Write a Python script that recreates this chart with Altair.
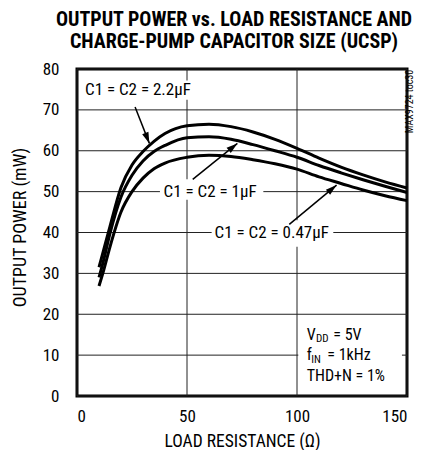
import math
import altair as alt
import pandas as pd

# ---- data ----
R = [10, 12, 15, 20, 25, 30, 35, 40, 50, 60, 70, 80, 90, 100, 110, 120, 130, 140, 150]
P_22 = [31.5, 35.5, 41.5, 51.0, 56.5, 59.8, 62.3, 64.2, 66.1, 66.5, 65.9, 64.6, 62.8, 60.6, 58.2, 56.0, 54.1, 52.4, 50.9]
P_1 = [29.0, 33.0, 39.8, 48.7, 54.0, 57.5, 59.8, 61.3, 63.2, 63.4, 62.8, 61.5, 60.0, 58.4, 56.4, 54.6, 52.9, 51.3, 49.8]
P_047 = [26.9, 30.5, 36.5, 45.0, 50.0, 53.3, 55.6, 57.0, 58.4, 58.9, 58.6, 57.8, 56.8, 55.5, 53.6, 52.0, 50.4, 49.0, 47.8]
SERIES = ["2.2uF", "1uF", "0.47uF"]

X_TICKS = [0, 50, 100, 150]
Y_TICKS = [0, 10, 20, 30, 40, 50, 60, 70, 80]

LABELS = ["C1 = C2 = 2.2\u00b5F", "C1 = C2 = 1\u00b5F", "C1 = C2 = 0.47\u00b5F"]
LABEL_X = [27.7, 60.5, 88.5]
LABEL_Y = [74.8, 50.0, 40.0]

# white label backgrounds (x, x2, y, y2)
BG_X = [4.0, 37.7, 61.2, 100.6]
BG_X2 = [52.5, 84.7, 116.5, 147.7]
BG_Y = [72.5, 48.0, 36.5, 2.0]
BG_Y2 = [77.2, 53.0, 43.0, 18.0]

# arrows: tail -> tip
AR_X1 = [26.4, 52.6, 96.5]
AR_Y1 = [70.7, 53.0, 42.0]
AR_X2 = [32.9, 72.9, 118.0]
AR_Y2 = [61.8, 61.8, 51.6]

COND_TEXT = ["V", "DD", "= 5V", "f", "IN", "= 1kHz", "THD+N = 1%"]
COND_X = [104.4, 108.6, 116.5, 104.4, 106.5, 113.8, 104.4]
COND_Y = [14.9, 14.0, 14.9, 10.1, 8.9, 10.1, 4.9]
COND_SIZE = [16, 11, 16, 16, 11, 16, 16]

FONT = "Roboto Condensed"
W, H = 330, 327
XMAX, YMAX = 150, 80

curves = pd.DataFrame({
    "R": R * 3,
    "P": P_22 + P_1 + P_047,
    "s": [SERIES[0]] * len(R) + [SERIES[1]] * len(R) + [SERIES[2]] * len(R),
})

sx, sy = W / XMAX, H / YMAX
angles = []
for x1, y1, x2, y2 in zip(AR_X1, AR_Y1, AR_X2, AR_Y2):
    dx = (x2 - x1) * sx
    dys = -(y2 - y1) * sy
    angles.append(math.degrees(math.atan2(dx, -dys)) % 360)
arrows = pd.DataFrame({"x1": AR_X1, "y1": AR_Y1, "x2": AR_X2, "y2": AR_Y2, "ang": angles})
labels = pd.DataFrame({"t": LABELS, "x": LABEL_X, "y": LABEL_Y})
bgs = pd.DataFrame({"x": BG_X, "x2": BG_X2, "y": BG_Y, "y2": BG_Y2})
cond = pd.DataFrame({"t": COND_TEXT, "x": COND_X, "y": COND_Y, "fs": COND_SIZE})
mark = pd.DataFrame({"t": ["MAX9724 toc30"], "x": [151.3], "y": [79.8]})
gx = pd.DataFrame({"v": X_TICKS})
gy = pd.DataFrame({"v": Y_TICKS})

xs = alt.Scale(domain=[0, XMAX], nice=False)
ys = alt.Scale(domain=[0, YMAX], nice=False)

xax = alt.Axis(values=X_TICKS, title="LOAD RESISTANCE (\u03a9)", grid=False)
yax = alt.Axis(values=Y_TICKS, title="OUTPUT POWER (mW)", grid=False,
               titleX=-57, titleY=158, titleAngle=270, titleBaseline="middle", titleAlign="center")

grid_x = alt.Chart(gx).mark_rule(color="#222", strokeWidth=1).encode(
    x=alt.X("v:Q", scale=xs, axis=xax)
)
grid_y = alt.Chart(gy).mark_rule(color="#222", strokeWidth=1).encode(
    y=alt.Y("v:Q", scale=ys, axis=yax)
)

base_bg = alt.Chart(bgs).mark_rect(color="white").encode(
    x=alt.X("x:Q", scale=xs), x2="x2:Q",
    y=alt.Y("y:Q", scale=ys), y2="y2:Q",
)

lines = alt.Chart(curves).mark_line(color="black", strokeWidth=3, interpolate="monotone").encode(
    x=alt.X("R:Q", scale=xs), y=alt.Y("P:Q", scale=ys), detail="s:N"
)

shafts = alt.Chart(arrows).mark_rule(color="black", strokeWidth=1.5).encode(
    x=alt.X("x1:Q", scale=xs), y=alt.Y("y1:Q", scale=ys), x2="x2:Q", y2="y2:Q"
)

heads = alt.Chart(arrows).mark_point(
    shape="M0,0 L-0.3,1 L0.3,1 Z", filled=True, color="black", opacity=1, size=500
).encode(
    x=alt.X("x2:Q", scale=xs), y=alt.Y("y2:Q", scale=ys), angle=alt.Angle("ang:Q", scale=None)
)

texts = alt.Chart(labels).mark_text(font=FONT, fontSize=17, color="black", align="center", baseline="middle").encode(
    x=alt.X("x:Q", scale=xs), y=alt.Y("y:Q", scale=ys), text="t:N"
)

conds = alt.Chart(cond).mark_text(font=FONT, color="black", align="left", baseline="middle").encode(
    x=alt.X("x:Q", scale=xs), y=alt.Y("y:Q", scale=ys), text="t:N", size=alt.Size("fs:Q", scale=None)
)

wm = alt.Chart(mark).mark_text(font=FONT, fontSize=10, color="black", align="right", baseline="middle", angle=270).encode(
    x=alt.X("x:Q", scale=xs), y=alt.Y("y:Q", scale=ys), text="t:N"
)

chart = alt.layer(grid_x, grid_y, base_bg, lines, shafts, heads, texts, conds, wm).properties(
    width=W, height=H,
    autosize=alt.AutoSizeParams(type="none"),
    padding={"left": 69, "top": 61, "right": 8, "bottom": 54},
    title=alt.TitleParams(
        text=["OUTPUT POWER vs. LOAD RESISTANCE AND", "CHARGE-PUMP CAPACITOR SIZE (UCSP)"],
        font=FONT, fontSize=20, fontWeight="bold", lineHeight=22, anchor="middle", offset=8, dx=-8,
        color="black",
    ),
).configure_view(
    stroke="black", strokeWidth=3
).configure_axis(
    domain=False, ticks=False,
    labelFont=FONT, labelFontSize=17, labelColor="black",
    titleFont=FONT, titleFontWeight="normal", titleColor="black",
).configure_axisX(labelPadding=12, titlePadding=8, titleFontSize=17.5).configure_axisY(labelPadding=18, titleFontSize=18)

chart.save("out.html", embed_options={"renderer": "svg", "actions": False})
